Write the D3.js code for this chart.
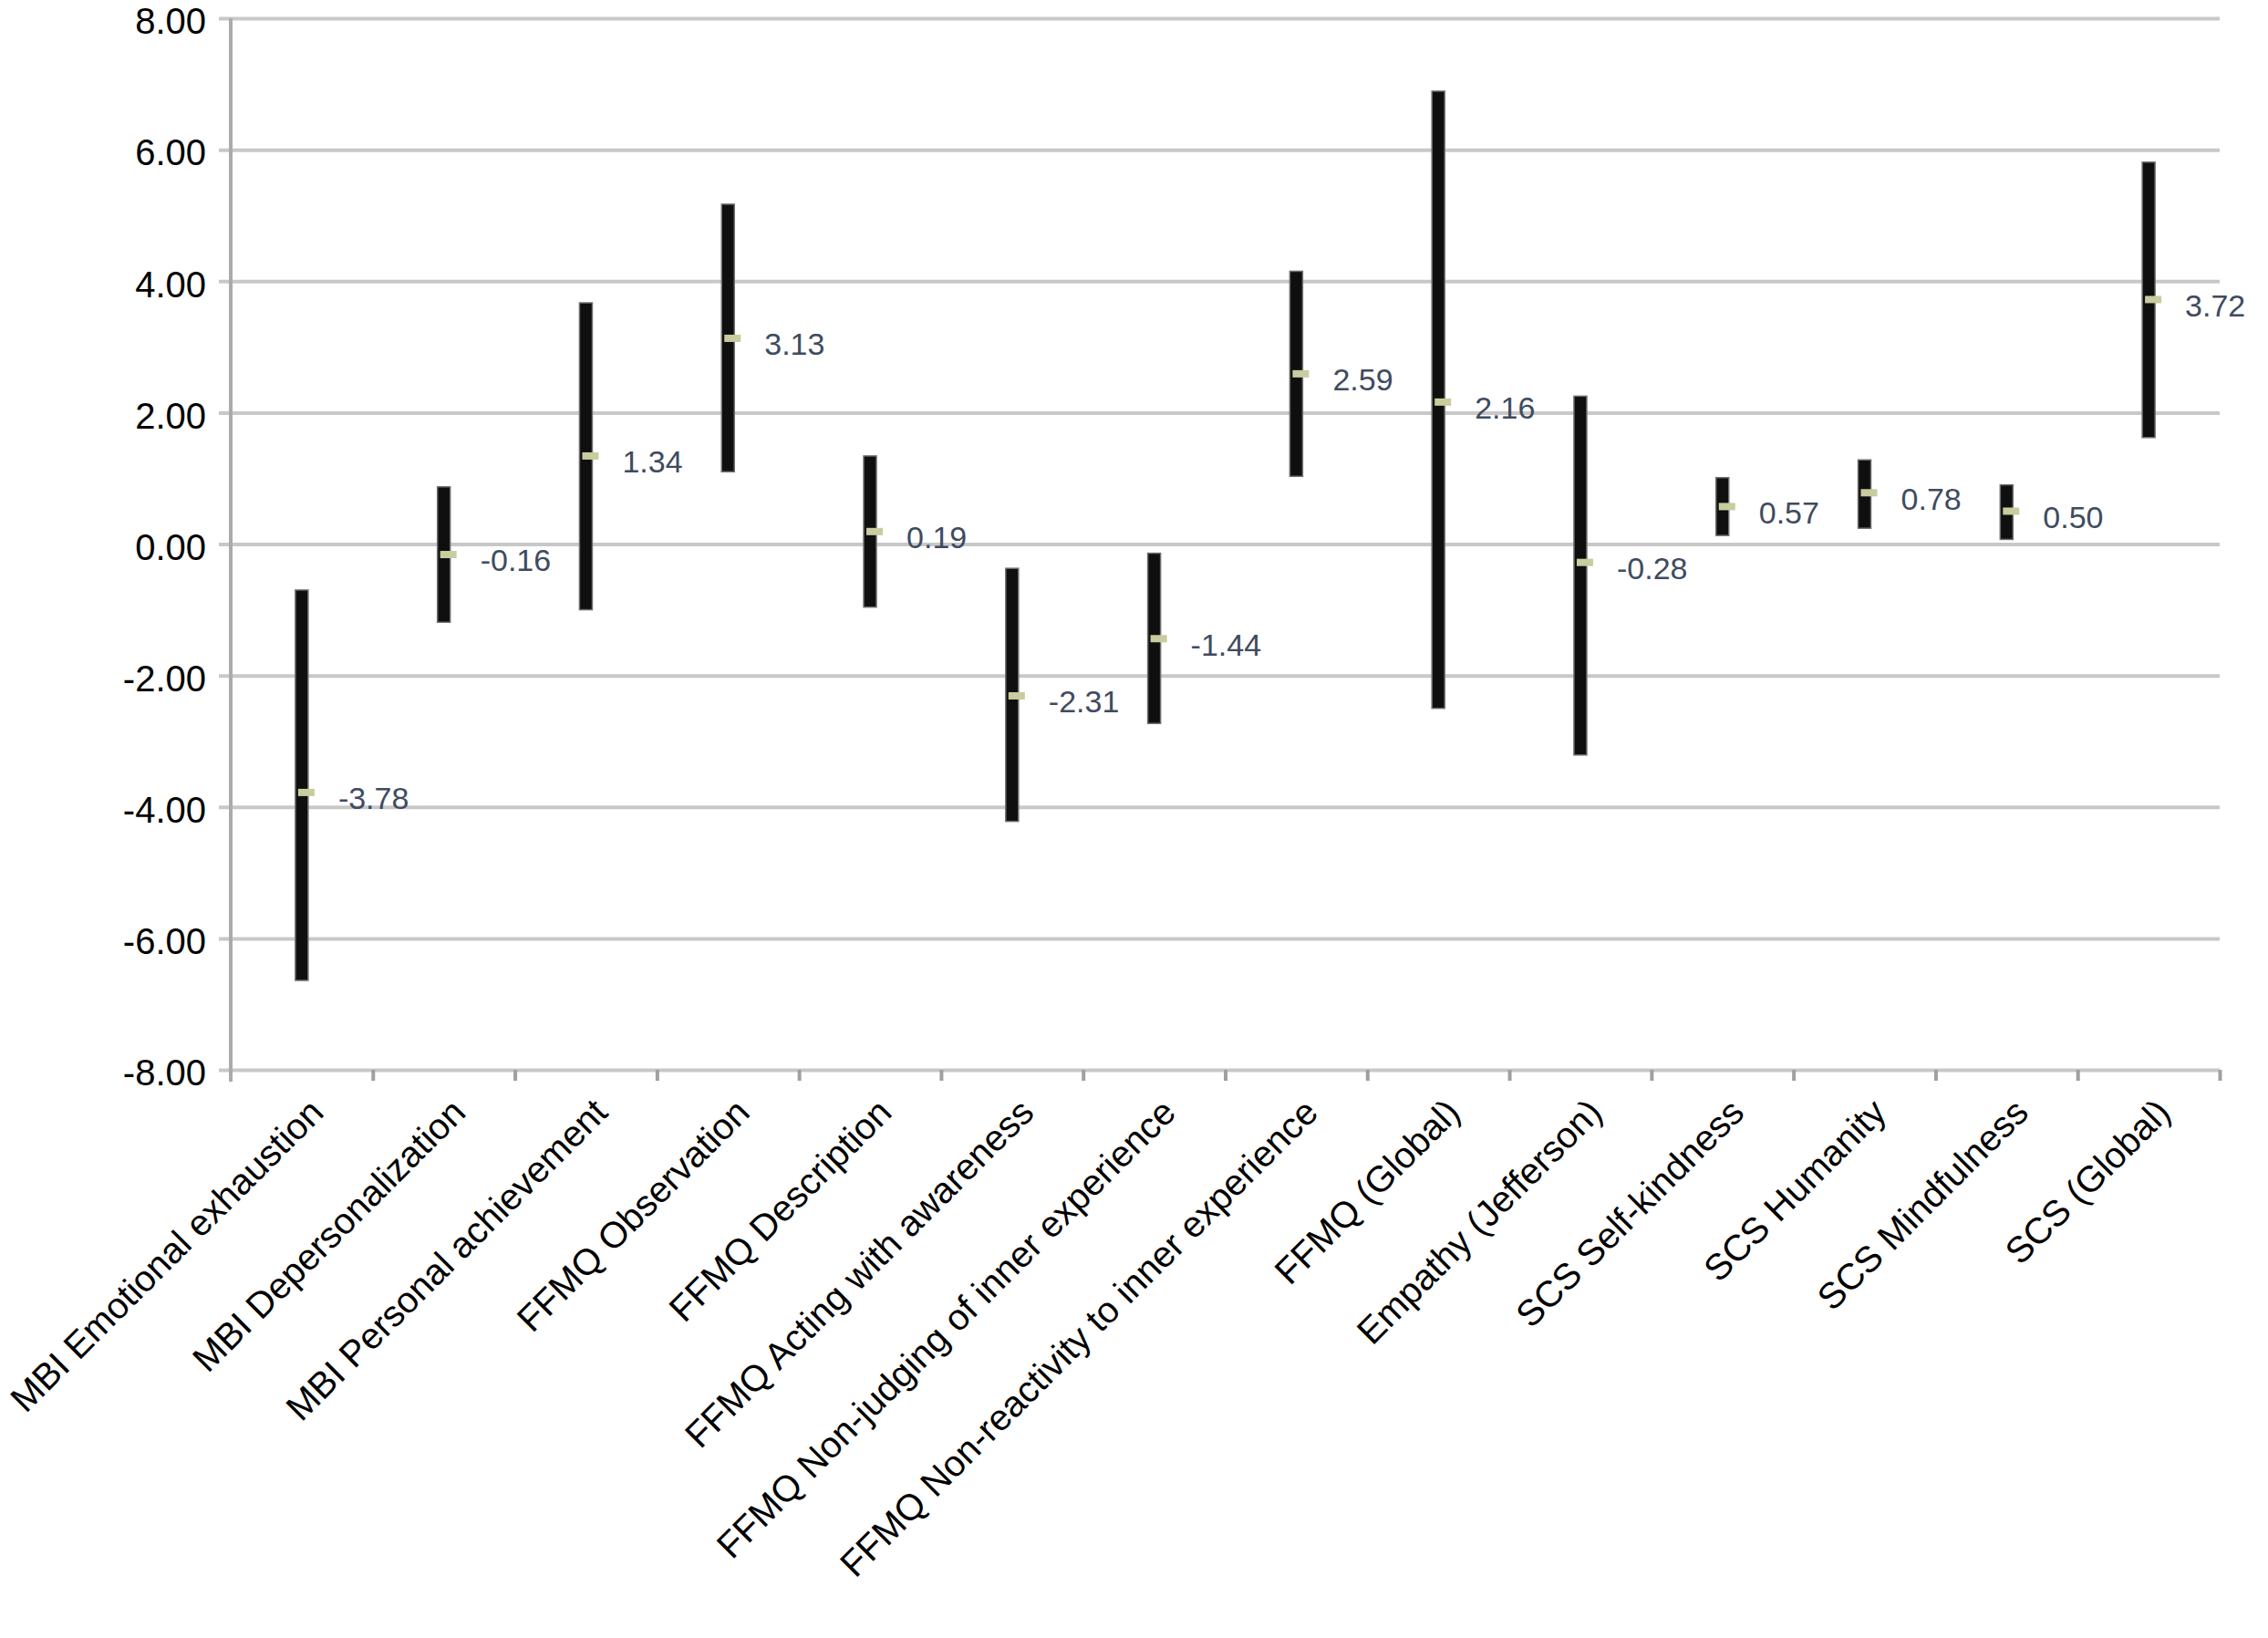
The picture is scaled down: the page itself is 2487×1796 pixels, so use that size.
<!DOCTYPE html>
<html>
<head>
<meta charset="utf-8">
<script src="https://cdn.jsdelivr.net/npm/d3@7"></script>
<style>
    body { margin: 0; background: #fff; }
    text { font-family: Arial, "Liberation Sans", Helvetica, sans-serif; }
</style>
</head>
<body>
<svg id="chart"></svg>
<script>
const categories = ["MBI Emotional exhaustion", "MBI Depersonalization", "MBI Personal achievement",
    "FFMQ Observation", "FFMQ Description", "FFMQ Acting with awareness",
    "FFMQ Non-judging of inner experience", "FFMQ Non-reactivity to inner experience",
    "FFMQ (Global)", "Empathy (Jefferson)", "SCS Self-kindness", "SCS Humanity",
    "SCS Mindfulness", "SCS (Global)"];
const means = [-3.78, -0.16, 1.34, 3.13, 0.19, -2.31, -1.44, 2.59, 2.16, -0.28, 0.57, 0.78, 0.50, 3.72];
const lower = [-6.64, -1.19, -1.00, 1.10, -0.96, -4.22, -2.73, 1.03, -2.50, -3.21, 0.13, 0.24, 0.07, 1.62];
const upper = [-0.70, 0.87, 3.67, 5.17, 1.34, -0.37, -0.14, 4.15, 6.89, 2.25, 1.01, 1.28, 0.90, 5.81];
const yTicks = [-8, -6, -4, -2, 0, 2, 4, 6, 8];

class IntervalChart {
    constructor(_config) {
        this.config = {
            parentElement: _config.parentElement,
            containerWidth: 2487,
            containerHeight: 1796,
            margin: {top: 20, right: 53, bottom: 623, left: 253},
        };
        this.data = categories.map((c, i) => ({name: c, mean: means[i], lo: lower[i], hi: upper[i]}));
        this.initVis();
    }

    initVis() {
        let vis = this;
        vis.svg = d3.select(vis.config.parentElement)
            .attr("width", vis.config.containerWidth)
            .attr("height", vis.config.containerHeight);
        vis.svg.append("rect").attr("width", "100%").attr("height", "100%").attr("fill", "#fff");

        vis.innerWidth = vis.config.containerWidth - vis.config.margin.left - vis.config.margin.right;
        vis.innerHeight = vis.config.containerHeight - vis.config.margin.top - vis.config.margin.bottom;

        vis.chart = vis.svg.append("g")
            .attr("transform", `translate(${vis.config.margin.left},${vis.config.margin.top})`);

        vis.xScale = d3.scaleBand().domain(categories).range([0, vis.innerWidth]).padding(0);
        // boundaries between categories, for the tick marks
        vis.xEdge = d3.scaleLinear().domain([0, categories.length]).range([0, vis.innerWidth]);
        vis.yScale = d3.scaleLinear().domain([-8, 8]).range([vis.innerHeight, 0]);

        vis.grid = vis.chart.append("g");
        vis.Yaxis = vis.chart.append("g");
        vis.Xaxis = vis.chart.append("g").attr("transform", `translate(0,${vis.innerHeight})`);
        vis.updateVis();
    }

    updateVis() {
        let vis = this;
        // horizontal gridlines, start a little left of the axis like Excel's tick marks
        vis.grid.call(d3.axisLeft(vis.yScale).tickValues(yTicks).tickSize(-vis.innerWidth - 13).tickFormat(""))
            .attr("transform", "translate(-13,0)");
        vis.grid.select(".domain").remove();
        vis.grid.selectAll(".tick line").attr("stroke", "#c8c8c8").attr("stroke-width", 4);

        vis.Yaxis.call(d3.axisLeft(vis.yScale).tickValues(yTicks).tickSize(0).tickPadding(27)
            .tickFormat(d => d.toFixed(2)));
        vis.Yaxis.select(".domain").remove();
        vis.Yaxis.selectAll(".tick text").attr("font-size", 40).attr("fill", "#000")
            .attr("font-family", "Arial, 'Liberation Sans', sans-serif").attr("dy", "0.42em");
        vis.Yaxis.append("line")
            .attr("x1", 0).attr("x2", 0).attr("y1", 0).attr("y2", vis.innerHeight + 13)
            .attr("stroke", "#ababab").attr("stroke-width", 4);

        vis.Xaxis.call(d3.axisBottom(vis.xEdge).tickValues(d3.range(1, categories.length + 1))
            .tickSize(12).tickFormat(""));
        vis.Xaxis.select(".domain").remove();
        vis.Xaxis.selectAll(".tick line").attr("stroke", "#a0a0a0").attr("stroke-width", 4);

        vis.Xaxis.selectAll(".cat-label").data(categories).join("text")
            .attr("class", "cat-label")
            .attr("text-anchor", "end")
            .attr("font-size", 40)
            .attr("fill", "#000")
            .attr("transform", d => `translate(${vis.xScale(d) + vis.xScale.bandwidth() / 2 + 26},49) rotate(-45)`)
            .text(d => d);
        vis.renderVis();
    }

    renderVis() {
        let vis = this;
        const cx = d => vis.xScale(d.name) + vis.xScale.bandwidth() / 2;

        vis.chart.selectAll(".range").data(vis.data).join("rect")
            .attr("class", "range")
            .attr("x", d => cx(d) - 7)
            .attr("width", 14)
            .attr("y", d => vis.yScale(d.hi))
            .attr("height", d => vis.yScale(d.lo) - vis.yScale(d.hi))
            .attr("fill", "#0f0f0f")
            .attr("stroke", "#6e6e6e")
            .attr("stroke-width", 1.5);

        vis.chart.selectAll(".mean").data(vis.data).join("rect")
            .attr("class", "mean")
            .attr("x", d => cx(d) - 4)
            .attr("width", 18)
            .attr("y", d => vis.yScale(d.mean) - 4)
            .attr("height", 8)
            .attr("fill", "#c8cc9e");

        vis.chart.selectAll(".val").data(vis.data).join("text")
            .attr("class", "val")
            .attr("x", d => cx(d) + 40)
            .attr("y", d => vis.yScale(d.mean) + 6)
            .attr("dy", "0.36em")
            .attr("font-size", 34)
            .attr("fill", "#404b60")
            .text(d => d.mean.toFixed(2));
    }
}

new IntervalChart({parentElement: "#chart"});
</script>
</body>
</html>
